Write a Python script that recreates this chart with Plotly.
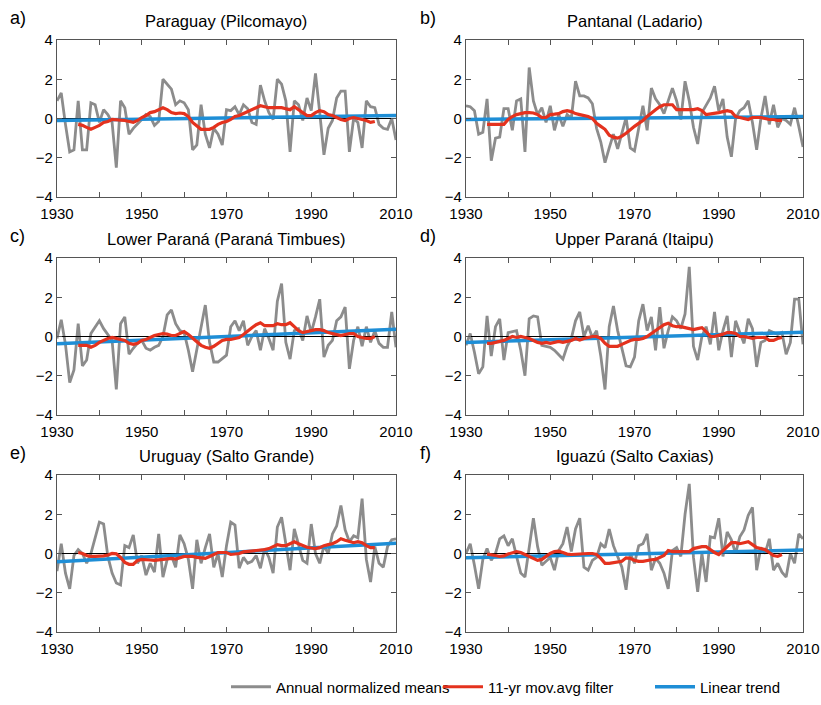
import plotly.graph_objects as go

years = list(range(1930, 2011))
ma_years = list(range(1935, 2006))

titles = ["Paraguay (Pilcomayo)", "Pantanal (Ladario)", "Lower Paraná (Paraná Timbues)",
          "Upper Paraná (Itaipu)", "Uruguay (Salto Grande)", "Iguazú (Salto Caxias)"]
letters = ["a)", "b)", "c)", "d)", "e)", "f)"]

annual_a = [0.9, 1.3, -0.3, -1.7, -1.6, 0.9, -1.6, -1.6, 0.8, 0.7,
            -0.2, 0.45, 0.2, -0.2, -2.5, 0.9, 0.55, -0.8, -0.5, -0.3,
            -0.05, 0.2, 0.1, -0.35, -0.15, 2.0, 1.75, 1.5, 0.7, 0.9,
            0.8, 0.45, -1.6, -1.35, 0.7, -0.8, -1.5, -0.5, -0.8, -1.35,
            0.45, 0.4, 0.6, 0.2, 0.7, 0.5, -0.2, -0.3, 1.7, 0.9,
            0.3, -0.05, 2.0, 1.75, 0.9, -1.7, 0.9, 0.7, -0.1, 1.05,
            0.4, 2.3, 0.3, -1.85, -0.5, -0.1, 1.05, 1.4, 1.4, -1.7,
            0.0, -0.2, -1.5, 0.9, 0.6, 0.55, -0.3, -0.5, -0.55, 0.0, -1.1]
annual_b = [0.65, 0.6, 0.4, -0.8, -0.7, 1.0, -2.15, -1.0, -0.95, 0.5,
            0.5, -0.6, 0.9, 1.0, -1.7, 2.6, 0.9, 0.2, 0.55, -0.2,
            0.65, -0.6, 0.2, -0.4, 0.2, 0.0, 1.9, 1.15, 1.15, 1.05,
            0.75, -0.5, -1.2, -2.25, -1.5, -0.8, -1.55, -0.8, 0.05, -1.5,
            -1.65, -0.5, 0.65, -0.6, 1.55, 1.0, 0.7, 0.25, 0.9, 1.55,
            0.9, -0.05, 1.9, 0.9, -0.45, -1.3, 0.3, 0.7, 1.05, 1.65,
            0.4, 1.0, -0.95, -1.95, 0.0, 0.4, 0.55, 0.9, -0.2, -1.6,
            0.0, 1.15, -0.3, 0.7, -0.45, 0.0, -0.1, -0.3, 0.55, -0.4, -1.45]
annual_c = [-0.1, 0.85, -0.4, -2.35, -1.7, 0.65, -1.5, -1.2, 0.15, 0.5,
            0.8, 0.4, 0.1, -0.2, -2.7, 0.65, 1.0, -0.9, -0.6, -0.35,
            -0.2, -0.6, -0.7, -0.55, -0.45, 0.0, 1.1, 1.35, 0.65, 0.3,
            0.2, -0.7, -1.8, -0.6, 0.6, 1.6, -0.3, -1.3, -1.3, -1.1,
            -0.95, 0.5, 0.8, 0.3, 0.8, -0.45, 0.0, 0.3, -0.7, 0.4,
            -0.1, -0.7, 1.8, 2.7, -0.3, -1.15, 0.3, 0.4, -0.2, 1.05,
            0.2, 1.0, 1.9, -1.05, -0.45, -0.2, 0.8, 1.0, 1.5, -1.65,
            -0.2, 0.5, -0.5, 0.5, -0.3, 0.3, -0.35, -0.55, -0.55, 1.25, -0.55]
annual_d = [-0.45, 0.15, -0.8, -1.9, -1.55, 1.05, -1.0, 0.5, 0.9, -1.2,
            0.2, 0.25, 0.3, -0.7, -2.0, 0.9, 1.05, 1.0, -0.45, -0.5,
            -0.55, -0.7, -0.9, -1.15, -0.5, -0.1, 0.8, 1.25, 0.0, 0.55,
            -0.05, 0.3, -1.0, -2.7, 0.5, 1.55, 0.3, -0.55, -1.5, -1.55,
            -1.05, 0.8, 1.65, 0.3, 1.0, -0.7, 1.5, -0.6, 0.3, 1.0,
            0.8, 0.4, 1.15, 3.55, -0.5, -1.2, 0.0, 0.5, -0.4, 1.25,
            -0.7, 0.3, 1.05, -1.05, 0.8, 0.2, -0.35, 0.9, 0.4, -1.55,
            -0.3, -0.2, 0.3, 0.2, 0.1, 0.2, -0.9, -0.3, 1.9, 1.9, -0.4]
annual_e = [-0.9, 0.5, -1.0, -1.8, -0.1, 0.2, 0.0, -0.5, 0.0, 0.85,
            1.6, 1.5, -0.15, -1.0, -1.5, -1.6, 0.4, 0.3, 0.95, -0.5,
            -0.1, -1.1, -0.5, -0.95, 1.0, -1.2, -0.3, -0.1, -0.7, 0.95,
            0.5, -0.3, -1.8, 0.7, -0.5, 0.3, 1.0, -0.7, 0.0, -1.2,
            0.4, 1.6, 1.45, -0.75, -0.2, -0.5, -0.4, -0.1, -0.75, 0.25,
            -0.2, -1.0, 1.35, 1.85, 0.5, -0.85, 1.25, 0.5, -0.35, -0.5,
            1.5, 0.0, -0.5, 0.4, 0.0, 1.0, 1.4, 2.45, 1.2, 0.6,
            0.9, 0.8, 2.8, -0.3, -1.45, 0.35, -0.5, -0.7, 0.35, 0.7, 0.75]
annual_f = [0.0, 0.5, -0.6, -1.8, -0.3, 0.25, -0.35, 0.0, 0.75, 0.9,
            0.4, 0.75, -0.15, -1.0, -1.2, 0.35, 1.8, 0.35, -0.6, -0.4,
            -0.2, -0.85, 0.15, 0.5, 1.35, 0.1, 1.25, 1.8, -0.7, -0.85,
            -0.35, -0.2, 0.5, 0.3, 1.25, 0.4, -0.2, -0.7, -1.85, 0.0,
            -0.5, 0.4, 0.5, 1.0, -0.85, -0.25, -0.5, -1.0, -1.8, 0.15,
            0.3, -0.15, 2.0, 3.55, -0.2, -1.95, 0.0, -1.45, 0.85, 0.8,
            1.8, -0.15, 1.1, 0.7, 0.0, 0.85, 1.2, 1.95, 2.35, -0.85,
            0.3, 0.0, 0.75, -0.85, -0.5, -0.95, -1.2, 0.0, -0.5, 1.0, 0.75]

movavg_a = [-0.3, -0.35, -0.45, -0.55, -0.45, -0.35, -0.2, -0.15, -0.05, -0.05,
            -0.08, -0.1, -0.15, -0.2, -0.1, 0.05, 0.15, 0.3, 0.35, 0.45,
            0.55, 0.45, 0.3, 0.25, 0.28, 0.25, 0.1, -0.2, -0.4, -0.55,
            -0.55, -0.55, -0.45, -0.3, -0.2, -0.15, -0.05, 0.1, 0.15, 0.25,
            0.35, 0.45, 0.55, 0.65, 0.6, 0.55, 0.55, 0.55, 0.55, 0.5,
            0.45, 0.6, 0.45, 0.3, 0.15, 0.15, 0.3, 0.4, 0.35, 0.2,
            0.15, 0.05, -0.05, -0.1, 0.0, 0.05, 0.0, -0.05, -0.1, -0.2, -0.15]
movavg_b = [-0.3, -0.3, -0.28, -0.3, -0.3, -0.05, 0.1, 0.2, 0.25, 0.3,
            0.3, 0.28, 0.2, 0.05, 0.05, 0.2, 0.22, 0.25, 0.35, 0.4,
            0.35, 0.25, 0.2, 0.15, 0.1, 0.0, -0.25, -0.4, -0.55, -0.85,
            -0.95, -1.0, -0.9, -0.75, -0.55, -0.4, -0.25, -0.1, 0.1, 0.3,
            0.45, 0.6, 0.7, 0.7, 0.7, 0.45, 0.45, 0.45, 0.45, 0.45,
            0.5, 0.4, 0.2, 0.22, 0.25, 0.3, 0.35, 0.4, 0.35, 0.1,
            0.05, 0.0, -0.05, 0.05, 0.05, 0.05, 0.0, -0.05, -0.05, -0.1, -0.1]
movavg_c = [-0.45, -0.45, -0.45, -0.55, -0.45, -0.3, -0.2, -0.1, -0.05, -0.08,
            -0.15, -0.2, -0.35, -0.4, -0.35, -0.2, -0.15, -0.05, 0.05, 0.1,
            0.15, 0.12, 0.05, 0.05, 0.15, 0.25, 0.1, -0.1, -0.25, -0.45,
            -0.55, -0.6, -0.5, -0.35, -0.2, -0.15, -0.15, -0.1, -0.05, 0.1,
            0.3, 0.45, 0.6, 0.7, 0.55, 0.55, 0.55, 0.65, 0.6, 0.6,
            0.7, 0.5, 0.3, 0.2, 0.25, 0.3, 0.35, 0.35, 0.3, 0.2,
            0.15, 0.1, 0.05, 0.1, 0.15, 0.15, 0.0, -0.05, -0.1, -0.1, 0.0]
movavg_d = [-0.35, -0.35, -0.3, -0.25, -0.2, -0.1, 0.0, -0.05, 0.0, -0.05,
            -0.1, -0.2, -0.3, -0.35, -0.3, -0.35, -0.3, -0.25, -0.3, -0.25,
            -0.2, -0.1, -0.18, -0.1, -0.05, 0.0, 0.0, -0.1, -0.35, -0.5,
            -0.5, -0.5, -0.4, -0.3, -0.2, -0.15, -0.15, -0.1, 0.0, 0.15,
            0.3, 0.45, 0.6, 0.68, 0.55, 0.5, 0.5, 0.45, 0.4, 0.35,
            0.4, 0.45, 0.25, 0.0, 0.0, 0.05, 0.12, 0.2, 0.2, 0.15,
            0.0, 0.0, -0.05, -0.1, -0.05, -0.05, -0.05, -0.2, -0.2, -0.1, -0.05]
movavg_e = [0.05, 0.0, -0.1, -0.15, -0.15, -0.15, -0.12, -0.08, 0.0, -0.02,
            -0.2, -0.45, -0.55, -0.55, -0.35, -0.3, -0.3, -0.33, -0.35, -0.32,
            -0.3, -0.28, -0.25, -0.28, -0.22, -0.15, -0.15, -0.15, -0.2, -0.22,
            -0.25, -0.15, -0.05, 0.05, 0.05, 0.05, -0.05, -0.02, 0.0, 0.08,
            0.1, 0.1, 0.12, 0.15, 0.2, 0.25, 0.35, 0.45, 0.4, 0.4,
            0.5, 0.6, 0.5, 0.4, 0.32, 0.28, 0.25, 0.3, 0.4, 0.45,
            0.5, 0.6, 0.75, 0.68, 0.6, 0.55, 0.6, 0.55, 0.4, 0.3, 0.3]
movavg_f = [-0.03, -0.05, -0.1, -0.15, -0.12, -0.03, 0.05, 0.1, 0.05, -0.05,
            -0.12, -0.22, -0.35, -0.3, -0.15, 0.0, 0.1, 0.12, 0.05, -0.03,
            -0.05, -0.03, 0.0, 0.0, 0.0, 0.0, -0.05, -0.25, -0.5, -0.5,
            -0.48, -0.45, -0.4, -0.22, -0.25, -0.35, -0.4, -0.4, -0.35, -0.32,
            -0.3, -0.2, -0.1, 0.15, 0.1, 0.1, 0.1, 0.1, 0.1, 0.25,
            0.3, 0.35, 0.35, 0.2, 0.05, -0.05, 0.15, 0.35, 0.55, 0.55,
            0.5, 0.55, 0.6, 0.45, 0.3, 0.25, 0.2, 0.05, -0.1, -0.15, -0.05]

trend_years = [1930, 2010]
trend_a = [-0.1, 0.15]
trend_b = [-0.05, 0.1]
trend_c = [-0.37, 0.37]
trend_d = [-0.3, 0.22]
trend_e = [-0.42, 0.52]
trend_f = [-0.22, 0.18]

annuals = [annual_a, annual_b, annual_c, annual_d, annual_e, annual_f]
movavgs = [movavg_a, movavg_b, movavg_c, movavg_d, movavg_e, movavg_f]
trends = [trend_a, trend_b, trend_c, trend_d, trend_e, trend_f]

x_ticks = list(range(1930, 2011, 10))
x_ticktext = [str(v) if (v - 1930) % 20 == 0 else "" for v in x_ticks]
y_ticks = [-4, -2, 0, 2, 4]
y_ticktext = ["\u22124", "\u22122", "0", "2", "4"]

W, H = 821, 705
col_px = [(57, 396), (466, 803)]
row_px = [(40, 197), (258, 415), (475, 632)]

GRAY = "#8c8c8c"
RED = "#e4321e"
BLUE = "#1e8ed6"
FONT = "Liberation Sans, Arial, sans-serif"

fig = go.Figure()
layout = dict(width=W, height=H, margin=dict(l=0, r=0, t=0, b=0, autoexpand=False),
              paper_bgcolor="white", plot_bgcolor="white",
              font=dict(family=FONT, size=15, color="black"),
              showlegend=True)
annotations = []

for i in range(6):
    r, c = divmod(i, 2)
    xl, xr = col_px[c]
    yt, yb = row_px[r]
    xname = "x" if i == 0 else f"x{i+1}"
    yname = "y" if i == 0 else f"y{i+1}"
    xkey = "xaxis" if i == 0 else f"xaxis{i+1}"
    ykey = "yaxis" if i == 0 else f"yaxis{i+1}"
    layout[xkey] = dict(domain=[xl / W, xr / W], range=[1930, 2010], anchor=yname,
                        tickvals=x_ticks, ticktext=x_ticktext, ticks="inside", ticklen=5,
                        tickcolor="#555", showline=True, linecolor="#555", linewidth=1.3,
                        mirror="ticks", showgrid=False, zeroline=False, automargin=False,
                        ticklabeloverflow="allow", ticklabelstandoff=3,
                        tickfont=dict(size=15, family=FONT))
    layout[ykey] = dict(domain=[1 - yb / H, 1 - yt / H], range=[-4, 4], anchor=xname,
                        tickvals=y_ticks, ticktext=y_ticktext, ticks="inside", ticklen=5,
                        tickcolor="#555", showline=True, linecolor="#555", linewidth=1.3,
                        mirror="ticks", showgrid=False, zeroline=False, automargin=False,
                        ticklabeloverflow="allow",
                        tickfont=dict(size=15, family=FONT))
    first = (i == 0)
    fig.add_trace(go.Scatter(x=years, y=annuals[i], mode="lines", xaxis=xname, yaxis=yname,
                             line=dict(color=GRAY, width=2.8), name="Annual normalized means",
                             showlegend=first, legendrank=1))
    fig.add_trace(go.Scatter(x=trend_years, y=[0, 0], mode="lines", xaxis=xname, yaxis=yname,
                             line=dict(color="black", width=1), showlegend=False, hoverinfo="skip"))
    fig.add_trace(go.Scatter(x=trend_years, y=trends[i], mode="lines", xaxis=xname, yaxis=yname,
                             line=dict(color=BLUE, width=3.5), name="Linear trend",
                             showlegend=first, legendrank=3))
    fig.add_trace(go.Scatter(x=ma_years, y=movavgs[i], mode="lines", xaxis=xname, yaxis=yname,
                             line=dict(color=RED, width=3.2), name="11-yr mov.avg filter",
                             showlegend=first, legendrank=2))
    annotations.append(dict(text=titles[i], x=(xl + xr) / 2 / W, y=1 - (yt - 19) / H,
                            xref="paper", yref="paper", showarrow=False,
                            font=dict(size=16.5, family=FONT), xanchor="center", yanchor="middle"))
    annotations.append(dict(text=letters[i], x=(8 if c == 0 else 418) / W, y=1 - (yt - 22) / H,
                            xref="paper", yref="paper", showarrow=False,
                            font=dict(size=18, family=FONT), xanchor="left", yanchor="middle"))

layout["annotations"] = annotations
layout["legend"] = dict(orientation="h", x=226 / W, xanchor="left", y=(H - 687) / H,
                        yanchor="middle", font=dict(size=15, family=FONT),
                        entrywidth=157, traceorder="normal", itemwidth=40)
fig.update_layout(**layout)
fig.write_html("out.html")
